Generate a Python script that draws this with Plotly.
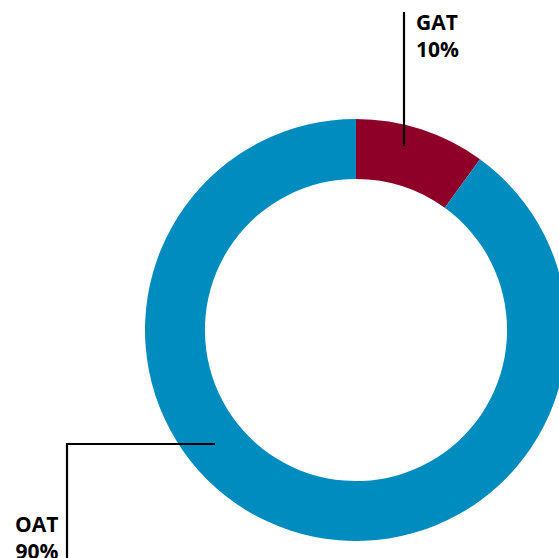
import plotly.graph_objects as go

labels = ["GAT", "OAT"]
values = [10, 90]
colors = ["#8F0028", "#008CBE"]
label_text = ["GAT<br>10%", "OAT<br>90%"]

W, H = 567, 558
L, T, B = 145, 119, 17
side = 422
R = W - L - side

def px(x):
    return (x - L) / side

def py(y):
    return (H - B - y) / side

fig = go.Figure(go.Pie(
    labels=labels, values=values, hole=0.716, sort=False,
    direction="clockwise", rotation=0, textinfo="none",
    marker=dict(colors=colors, line=dict(width=0)),
    hoverinfo="label+percent", showlegend=False,
))

font = dict(family="Open Sans", size=21, color="#000000")
fig.add_annotation(xref="paper", yref="paper", x=px(414), y=py(6), text="<b>" + label_text[0] + "</b>",
                   showarrow=False, xanchor="left", yanchor="top", align="left", font=font)
fig.add_annotation(xref="paper", yref="paper", x=px(60), y=py(508), text="<b>" + label_text[1] + "</b>",
                   showarrow=False, xanchor="right", yanchor="top", align="right", font=font)

line = dict(color="#000000", width=2.2)
fig.add_shape(type="line", xref="paper", yref="paper", x0=px(404), x1=px(404), y0=py(12), y1=py(146), line=line, layer="above")
fig.add_shape(type="path", xref="paper", yref="paper",
              path=f"M {px(215)},{py(444)} L {px(67)},{py(444)} L {px(67)},{py(570)}", line=line, layer="above")

fig.update_layout(width=W, height=H, margin=dict(l=L, r=R, t=T, b=B, pad=0),
                  paper_bgcolor="white", plot_bgcolor="white")

fig.write_html("out.html", config={"displayModeBar": False},
               post_script="document.body.style.margin='0';document.body.style.overflow='hidden';")
